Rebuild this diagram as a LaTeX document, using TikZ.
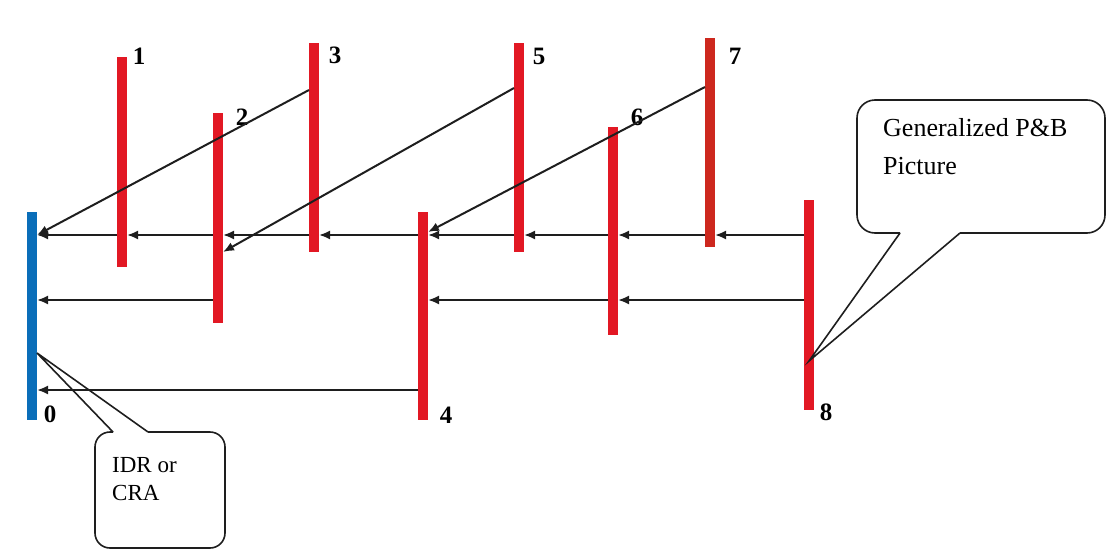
\documentclass[tikz,border=0pt]{standalone}
\usepackage{fontspec}
\setmainfont{Liberation Serif}
\usetikzlibrary{arrows.meta}
\definecolor{barred}{RGB}{226,24,36}
\definecolor{barredb}{RGB}{205,40,30}
\definecolor{barblue}{RGB}{10,110,185}
\definecolor{linegray}{RGB}{30,30,30}
\begin{document}
\begin{tikzpicture}[x=1pt,y=-1pt,
  bar/.style={rectangle, fill=barred, minimum width=10pt, inner sep=0pt, outer sep=0pt},
  lbl/.style={font=\fontsize{25}{25}\selectfont\bfseries, inner sep=0pt},
  arr/.style={draw=linegray, line width=2pt, -{Latex[length=11pt,width=9pt]}},
  callout/.style={draw=linegray, line width=1.6pt},
  ctext/.style={anchor=base west, inner sep=0pt, font=\fontsize{26}{30}\selectfont}]
\useasboundingbox (0,0) rectangle (1108,554);

% bars (pictures)
\node[bar, fill=barblue, minimum height=208pt] (b0) at (32,316) {};
\node[bar, minimum height=210pt] (b1) at (122,162) {};
\node[bar, minimum height=210pt] (b2) at (218,218) {};
\node[bar, minimum height=209pt] (b3) at (314,147.5) {};
\node[bar, minimum height=208pt] (b4) at (423,316) {};
\node[bar, minimum height=209pt] (b5) at (519,147.5) {};
\node[bar, minimum height=208pt] (b6) at (613,231) {};
\node[bar, fill=barredb, minimum height=209pt] (b7) at (710,142.5) {};
\node[bar, minimum height=210pt] (b8) at (809,305) {};

% labels
\node[lbl] (l0) at (50,414) {0};
\node[lbl] (l1) at (139,56) {1};
\node[lbl] (l2) at (242,117) {2};
\node[lbl] (l3) at (335,55) {3};
\node[lbl] (l4) at (446,415) {4};
\node[lbl] (l5) at (539,56) {5};
\node[lbl] (l6) at (637,117) {6};
\node[lbl] (l7) at (735,56) {7};
\node[lbl] (l8) at (826,412) {8};

% rows
\coordinate (r1) at (0,235);
\coordinate (r2) at (0,300);
\coordinate (r3) at (0,390);

% row 1
\draw[arr] (b8.west |- r1) -- (b7.east |- r1);
\draw[arr] (b7.west |- r1) -- (b6.east |- r1);
\draw[arr] (b6.west |- r1) -- (b5.east |- r1);
\draw[arr] (b5.west |- r1) -- (b4.east |- r1);
\draw[arr] (b4.west |- r1) -- (b3.east |- r1);
\draw[arr] (b3.west |- r1) -- (b2.east |- r1);
\draw[arr] (b2.west |- r1) -- (b1.east |- r1);
\draw[arr] (b1.west |- r1) -- (b0.east |- r1);
% row 2
\draw[arr] (b8.west |- r2) -- (b6.east |- r2);
\draw[arr] (b6.west |- r2) -- (b4.east |- r2);
\draw[arr] (b2.west |- r2) -- (b0.east |- r2);
% row 3
\draw[arr] (b4.west |- r3) -- (b0.east |- r3);

% diagonals
\coordinate (d3) at (0,90);
\coordinate (d5) at (0,88);
\coordinate (d7) at (0,87);
\coordinate (e2) at (0,252);
\coordinate (e4) at (0,232);
\draw[arr] (b3.west |- d3) -- (b0.east |- r1);
\draw[arr] (b5.west |- d5) -- (b2.east |- e2);
\draw[arr] (b7.west |- d7) -- (b4.east |- e4);

% callout: Generalized P&B Picture
\coordinate (t8) at (0,361);
\draw[callout, rounded corners=18pt] (960,233) -- (1105,233) -- (1105,100) -- (857,100) -- (857,233) -- (900,233);
\draw[callout, line join=miter] (900,233) -- (b8.center |- t8) -- (960,233);
\node[ctext] (g1) at (883,136) {Generalized P\&B};
\node[ctext] (g2) at (883,174) {Picture};

% callout: IDR or CRA
\coordinate (t0) at (0,353);
\draw[callout, rounded corners=15pt] (148,432) -- (225,432) -- (225,548) -- (95,548) -- (95,432) -- (113,432);
\draw[callout, line join=miter] (113,432) -- (b0.east |- t0) -- (148,432);
\node[ctext, font=\fontsize{23}{27}\selectfont] (c1) at (112,472) {IDR or};
\node[ctext, font=\fontsize{23}{27}\selectfont] (c2) at (112,500) {CRA};
\end{tikzpicture}
\end{document}
